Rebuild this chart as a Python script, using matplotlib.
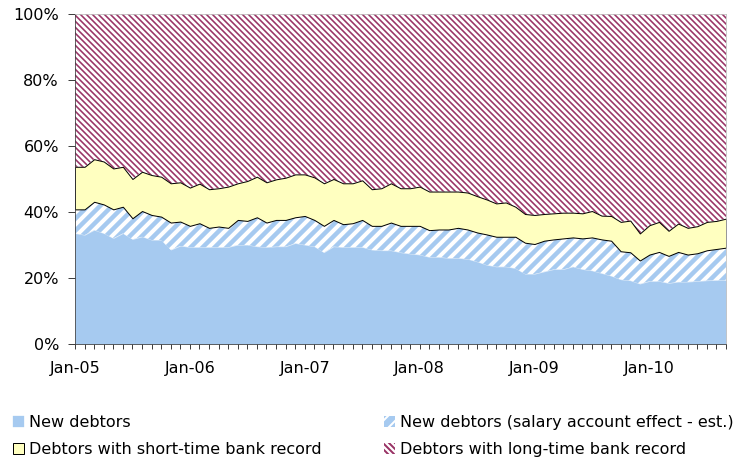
import numpy as np
import matplotlib
matplotlib.use("Agg")
import matplotlib.pyplot as plt
from matplotlib.ticker import FixedLocator, FuncFormatter, MultipleLocator

# Share of debtors by type, monthly Jan-05 .. Sep-10 (% of all debtors)
new_debtors = [
    33.5, 33.0, 34.5, 33.5, 32.0, 33.5, 31.7, 32.5, 31.5, 31.5,
    28.5, 29.7, 29.3, 29.3, 29.3, 29.3, 29.3, 30.0, 30.0, 29.5,
    29.3, 29.5, 29.5, 30.5, 30.0, 29.5, 27.7, 29.5, 29.3, 29.3,
    29.3, 28.5, 28.3, 28.3, 27.7, 27.3, 27.0, 26.3, 26.3, 26.0,
    26.0, 25.7, 24.9, 23.9, 23.4, 23.4, 22.9, 21.2, 21.2, 21.9,
    22.6, 22.6, 23.4, 22.6, 22.2, 21.4, 20.6, 19.5, 19.2, 18.2,
    19.0, 19.0, 18.4, 18.8, 18.8, 19.0, 19.2, 19.3, 19.3,
]
salary_effect = [
    7.3, 7.8, 8.6, 8.8, 8.8, 8.1, 6.4, 7.8, 7.6, 7.1,
    8.3, 7.4, 6.5, 7.3, 5.9, 6.3, 5.9, 7.6, 7.3, 8.9,
    7.5, 8.1, 8.1, 7.9, 8.8, 8.1, 8.1, 8.1, 7.0, 7.3,
    8.3, 7.3, 7.5, 8.5, 8.1, 8.5, 8.8, 8.2, 8.4, 8.7,
    9.2, 9.0, 8.9, 9.3, 9.1, 9.1, 9.6, 9.5, 9.1, 9.4,
    9.1, 9.4, 8.9, 9.4, 10.1, 10.3, 10.7, 8.6, 8.6, 7.1,
    8.1, 8.9, 8.3, 9.1, 8.3, 8.5, 9.2, 9.5, 9.9,
]
short_record = [
    12.9, 12.9, 12.9, 13.0, 12.4, 12.1, 11.9, 11.9, 12.1, 12.1,
    11.9, 11.9, 11.6, 12.0, 11.7, 11.6, 12.5, 11.1, 12.1, 12.3,
    12.2, 12.3, 12.8, 13.0, 12.6, 12.9, 12.9, 12.4, 12.4, 12.1,
    12.0, 11.1, 11.4, 11.9, 11.4, 11.4, 11.9, 11.7, 11.5, 11.5,
    11.0, 11.2, 11.0, 10.6, 10.1, 10.4, 9.1, 8.7, 8.8, 8.1,
    7.9, 7.8, 7.5, 7.6, 8.0, 7.2, 7.5, 8.9, 9.6, 8.2,
    8.9, 9.1, 7.6, 8.6, 8.1, 8.2, 8.6, 8.5, 8.8,
]
long_record = [
    46.3, 46.3, 44.0, 44.7, 46.8, 46.3, 50.0, 47.8, 48.8, 49.3,
    51.3, 51.0, 52.6, 51.4, 53.1, 52.8, 52.3, 51.3, 50.6, 49.3,
    51.0, 50.1, 49.6, 48.6, 48.6, 49.5, 51.3, 50.0, 51.3, 51.3,
    50.4, 53.1, 52.8, 51.3, 52.8, 52.8, 52.3, 53.8, 53.8, 53.8,
    53.8, 54.1, 55.2, 56.2, 57.4, 57.1, 58.4, 60.6, 60.9, 60.6,
    60.4, 60.2, 60.2, 60.4, 59.7, 61.1, 61.2, 63.0, 62.6, 66.5,
    64.0, 63.0, 65.7, 63.5, 64.8, 64.3, 63.0, 62.7, 62.0,
]
year_labels = ["Jan-05", "Jan-06", "Jan-07", "Jan-08", "Jan-09", "Jan-10"]
series_names = [
    "New debtors",
    "New debtors (salary account effect - est.)",
    "Debtors with short-time bank record",
    "Debtors with long-time bank record",
]

BLUE = "#A6CAF0"
YELLOW = "#FFFFC0"
MAROON = "#993366"
DPI = 72

plt.rcParams["font.family"] = ["DejaVu Sans"]
plt.rcParams["font.size"] = 16

# 100% stacked, like the spreadsheet original
shares = np.array([new_debtors, salary_effect, short_record, long_record], dtype=float)
shares = 100 * shares / shares.sum(axis=0)
upper = shares.cumsum(axis=0)
lower = upper - shares
x = np.arange(shares.shape[1])

fig = plt.figure(figsize=(733 / DPI, 466 / DPI), dpi=DPI)
ax = fig.add_axes([75 / 733, 1 - 344 / 466, 651 / 733, 330 / 466])

# hatch width is taken from rcParams when the artist is created
h_new = ax.fill_between(x, lower[0], upper[0], facecolor=BLUE, edgecolor=BLUE,
                        linewidth=0.3, zorder=1)
with plt.rc_context({"hatch.linewidth": 4.0}):
    h_sal = ax.fill_between(x, lower[1], upper[1], facecolor=BLUE, edgecolor="white",
                            hatch="//", linewidth=0, zorder=1)
with plt.rc_context({"hatch.linewidth": 1.6}):
    h_long = ax.fill_between(x, lower[3], upper[3], facecolor="white", edgecolor=MAROON,
                             hatch="\\\\\\\\", linewidth=0, zorder=1)
h_short = ax.fill_between(x, lower[2], upper[2], facecolor=YELLOW, edgecolor="black",
                          linewidth=1.0, zorder=3)

ax.set_xlim(x[0], x[-1])
ax.set_ylim(0, 100)
ax.xaxis.set_major_locator(FixedLocator(x[::12]))
ax.set_xticklabels(year_labels)
ax.xaxis.set_minor_locator(MultipleLocator(1))
ax.yaxis.set_major_locator(MultipleLocator(20))
ax.yaxis.set_major_formatter(FuncFormatter(lambda v, _: f"{v:.0f}%"))

for side in ("top", "right"):
    ax.spines[side].set_color("#BFBFBF")
for side in ("left", "bottom"):
    ax.spines[side].set_color("#404040")
ax.tick_params(axis="y", direction="out", length=7, width=1, color="#404040", pad=9)
ax.tick_params(axis="x", which="both", direction="out", length=5, width=1,
               color="#404040", pad=12)
for side in ("top", "right", "left", "bottom"):
    ax.spines[side].set_zorder(5)

common = dict(loc="upper left", frameon=False, handlelength=0.7, handleheight=0.7,
              handletextpad=0.3, labelspacing=0.75, borderpad=0, borderaxespad=0,
              fontsize=16)
fig.legend([h_new, h_short], [series_names[0], series_names[2]],
           bbox_to_anchor=(13 / 733, 1 - 415 / 466), **common)
with plt.rc_context({"hatch.linewidth": 2.0}):
    fig.legend([h_sal, h_long], [series_names[1], series_names[3]],
               bbox_to_anchor=(384 / 733, 1 - 415 / 466), **common)

fig.savefig("out.png", dpi=DPI)
